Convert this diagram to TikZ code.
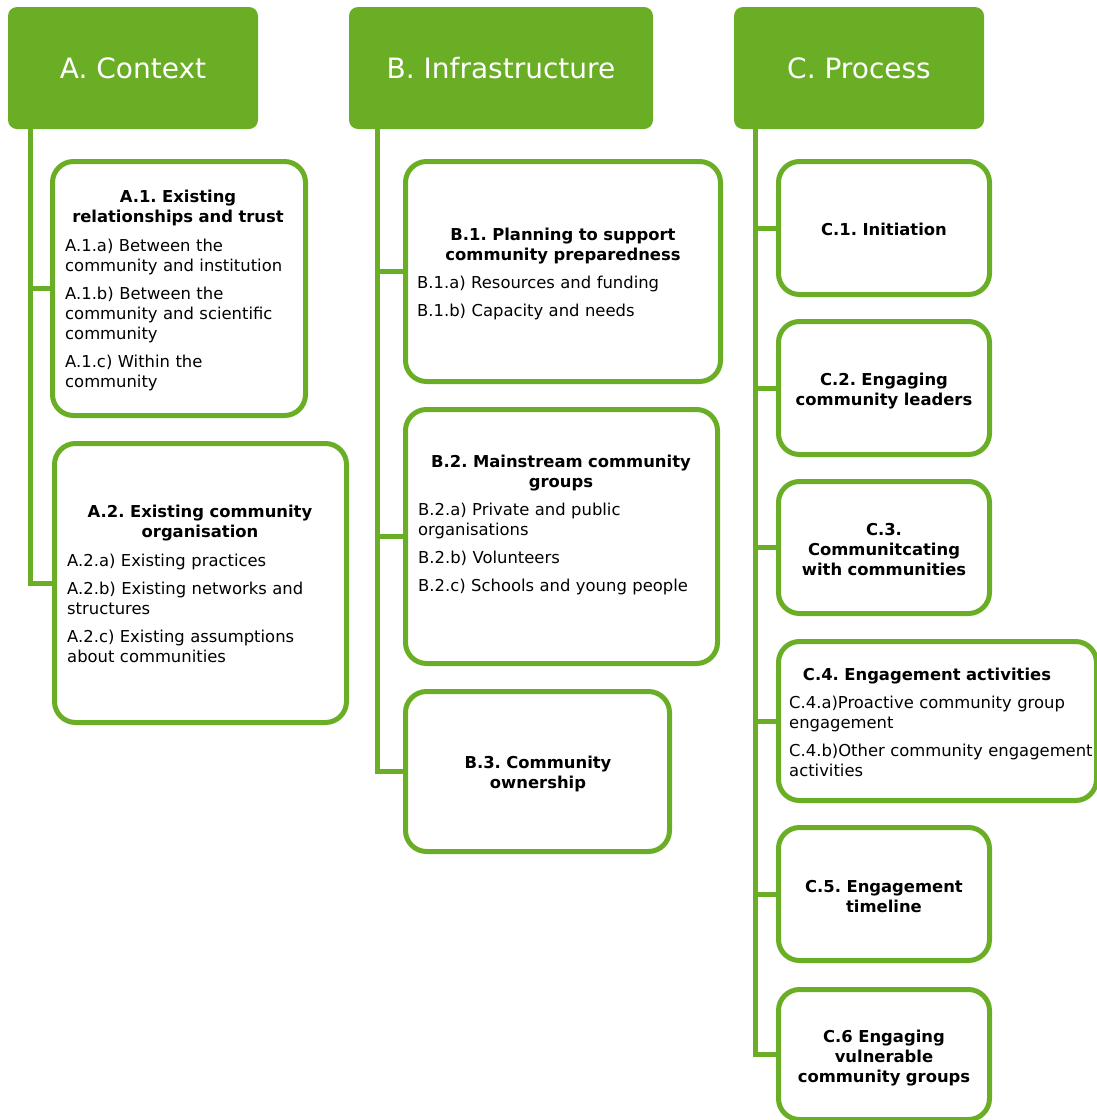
\documentclass[tikz,border=0pt]{standalone}
\usepackage{fontspec}
\setmainfont{DejaVu Sans}
\definecolor{lg}{RGB}{106,174,38}
\newcommand\igap{\par\vspace{8pt}}
\frenchspacing
\tikzset{
 head/.style={fill=lg, rounded corners=9pt, inner sep=0pt, text=white, font=\fontsize{28}{34}\selectfont},
 card/.style={draw=lg, line width=5pt, rounded corners=21pt, fill=white, inner sep=0pt},
 conn/.style={draw=lg, line width=5pt},
 ttl/.style={font=\frenchspacing\bfseries\fontsize{16.4}{20}\selectfont, text width=320pt, align=center, inner sep=0pt, anchor=base},
 itm/.style={font=\frenchspacing\fontsize{16.4}{20}\selectfont, text width=330pt, align=left, inner sep=0pt, anchor=base west},
}
\begin{document}
\begin{tikzpicture}[x=1pt,y=-1pt]
\useasboundingbox (0,0) rectangle (1096,1120);
% headers
\node[head, minimum width=250pt, minimum height=122pt] (A) at (133,68) {A. Context};
\node[head, minimum width=304pt, minimum height=122pt] (B) at (501,68) {B. Infrastructure};
\node[head, minimum width=250pt, minimum height=122pt] (C) at (859,68) {C. Process};
% trunk coordinates
\coordinate (ar) at ([xshift=23pt]A.south west);
\coordinate (br) at ([xshift=29pt]B.south west);
\coordinate (cr) at ([xshift=22pt]C.south west);
% card positions
\path
 (179,288.5) node[card, draw=none, fill=none, minimum width=248pt, minimum height=249pt] (a1) {}
 (200.5,583) node[card, draw=none, fill=none, minimum width=287pt, minimum height=274pt] (a2) {}
 (563,271.5) node[card, draw=none, fill=none, minimum width=310pt, minimum height=215pt] (b1) {}
 (561.5,536.5) node[card, draw=none, fill=none, minimum width=307pt, minimum height=249pt] (b2) {}
 (537.5,771.5) node[card, draw=none, fill=none, minimum width=259pt, minimum height=155pt] (b3) {}
 (884,228) node[card, draw=none, fill=none, minimum width=206pt, minimum height=128pt] (c1) {}
 (884,388) node[card, draw=none, fill=none, minimum width=206pt, minimum height=128pt] (c2) {}
 (884,547.5) node[card, draw=none, fill=none, minimum width=206pt, minimum height=127pt] (c3) {}
 (937.5,721) node[card, draw=none, fill=none, minimum width=313pt, minimum height=154pt] (c4) {}
 (884,894) node[card, draw=none, fill=none, minimum width=206pt, minimum height=128pt] (c5) {}
 (884,1054.5) node[card, draw=none, fill=none, minimum width=206pt, minimum height=125pt] (c6) {};
% connectors
\draw[conn] (ar) |- (a2.west);
\draw[conn] (a1.west) -- (a1.west -| ar);
\draw[conn] (br) |- (b3.west);
\draw[conn] (b1.west) -- (b1.west -| br);
\draw[conn] (b2.west) -- (b2.west -| br);
\draw[conn] (cr) |- (c6.west);
\foreach \n in {c1,c2,c3,c4,c5} \draw[conn] (\n.west) -- (\n.west -| cr);
% card outlines
\foreach \n in {a1,a2,b1,b2,b3,c1,c2,c3,c4,c5,c6}
  \draw[draw=lg, line width=5pt, rounded corners=21pt, fill=white] (\n.north west) rectangle (\n.south east);
% texts
\node[ttl] (a1t) at (178,202) {A.1. Existing\\relationships and trust};
\node[itm] (a1i) at (65,251) {A.1.a) Between the\\community and institution\igap A.1.b) Between the\\community and scientific\\community\igap A.1.c) Within the\\community};
\node[ttl] (a2t) at (200,517) {A.2. Existing community\\organisation};
\node[itm] (a2i) at (67,566) {A.2.a) Existing practices\igap A.2.b) Existing networks and\\structures\igap A.2.c) Existing assumptions\\about communities};
\node[ttl] (b1t) at (563,240) {B.1. Planning to support\\community preparedness};
\node[itm] (b1i) at (417,288) {B.1.a) Resources and funding\igap B.1.b) Capacity and needs};
\node[ttl] (b2t) at (561,467) {B.2. Mainstream community\\groups};
\node[itm] (b2i) at (418,515) {B.2.a) Private and public\\organisations\igap B.2.b) Volunteers\igap B.2.c) Schools and young people};
\node[ttl] (b3t) at (538,768) {B.3. Community\\ownership};
\node[ttl] (c1t) at (884,235) {C.1. Initiation};
\node[ttl] (c2t) at (884,385) {C.2. Engaging\\community leaders};
\node[ttl] (c3t) at (884,535) {C.3.\\Communitcating\\with communities};
\node[ttl] (c4t) at (927,680) {C.4. Engagement activities};
\node[itm] (c4i) at (789,708) {C.4.a)Proactive community group\\engagement\igap C.4.b)Other community engagement\\activities};
\node[ttl] (c5t) at (884,892) {C.5. Engagement\\timeline};
\node[ttl] (c6t) at (884,1042) {C.6 Engaging\\vulnerable\\community groups};
\end{tikzpicture}
\end{document}
